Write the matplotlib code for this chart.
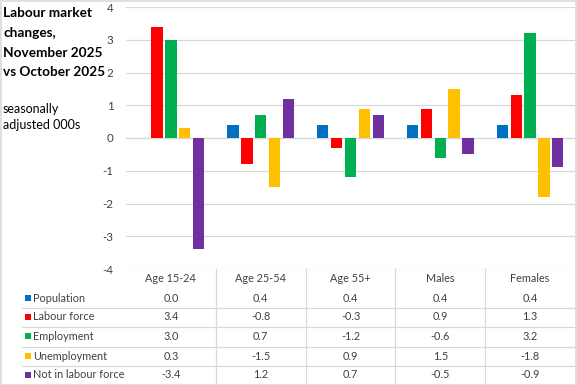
import matplotlib
matplotlib.use("Agg")
import matplotlib.pyplot as plt
from matplotlib.lines import Line2D
from matplotlib.patches import Rectangle
import matplotlib.transforms as mtransforms

plt.rcParams['font.family'] = ['Lato', 'DejaVu Sans']

categories = ["Age 15-24", "Age 25-54", "Age 55+", "Males", "Females"]
series_names = ["Population", "Labour force", "Employment", "Unemployment", "Not in labour force"]
population = [0.0, 0.4, 0.4, 0.4, 0.4]
labour_force = [3.4, -0.8, -0.3, 0.9, 1.3]
employment = [3.0, 0.7, -1.2, -0.6, 3.2]
unemployment = [0.3, -1.5, 0.9, 1.5, -1.8]
not_in_labour_force = [-3.4, 1.2, 0.7, -0.5, -0.9]
y_ticks = [-4, -3, -2, -1, 0, 1, 2, 3, 4]
title_lines = ["Labour market", "changes,", "November 2025", "vs October 2025"]
subtitle_lines = ["seasonally", "adjusted 000s"]

series = [population, labour_force, employment, unemployment, not_in_labour_force]
colors = ["#0070C0", "#FF0000", "#00B050", "#FFC000", "#7030A0"]

W, H = 577, 385
fig = plt.figure(figsize=(W / 100, H / 100), dpi=100)


def fx(px):
    return px / W


def fy(py):
    return 1 - py / H


left, right = 126, 575
top, bottom = 7, 269
ax = fig.add_axes([fx(left), fy(bottom), (right - left) / W, (bottom - top) / H])

grid_c = "#D9D9D9"
text_c = "#404040"

pitch = 0.154
width = 0.126
n = len(series)
for j, (vals, col) in enumerate(zip(series, colors)):
    xs = [i + (j - (n - 1) / 2) * pitch for i in range(len(categories))]
    ax.bar(xs, vals, width=width, color=col, zorder=3, label=series_names[j])

ax.set_xlim(-0.5, len(categories) - 0.5)
ax.set_ylim(-4, 4)
ax.set_yticks(y_ticks)
ax.set_yticklabels([str(t) for t in y_ticks])
ax.set_xticks([])
for s in ax.spines.values():
    s.set_visible(False)
ax.grid(axis='y', color=grid_c, lw=0.9, zorder=0)
ax.tick_params(axis='y', length=0, pad=9, labelsize=8.3, labelcolor=text_c)
ax.axhline(0, color=grid_c, lw=0.9, zorder=1)

# title
title_baselines = [17, 37, 57, 76.5]
for line, yb in zip(title_lines, title_baselines):
    fig.text(fx(3), fy(yb), line, fontsize=9.8, fontweight='bold', color='black', va='baseline', ha='left')
sub_baselines = [113, 129]
for line, yb in zip(subtitle_lines, sub_baselines):
    fig.text(fx(3), fy(yb), line, fontsize=9, color='black', va='baseline', ha='left')

# data table
trans = mtransforms.blended_transform_factory(ax.transData, fig.transFigure)
header_y = 279
row_ys = [298, 317, 336, 356, 375]
row_lines = [308, 327, 346.5, 366]

for i, cat in enumerate(categories):
    fig.text(i, fy(header_y), cat, transform=trans, ha='center', va='center', fontsize=7.8, color=text_c)
    for vals, ry in zip(series, row_ys):
        fig.text(i, fy(ry), f"{vals[i]:.1f}", transform=trans, ha='center', va='center', fontsize=7.8, color=text_c)

for k in range(1, len(categories)):
    fig.add_artist(Line2D([k - 0.5, k - 0.5], [fy(bottom), fy(H)], transform=trans, color=grid_c, lw=0.9))

for ly in row_lines:
    fig.add_artist(Line2D([fx(22), fx(576)], [fy(ly), fy(ly)], transform=fig.transFigure, color=grid_c, lw=0.9))

for name, col, ry in zip(series_names, colors, row_ys):
    fig.add_artist(Rectangle((fx(24.5), fy(ry + 3)), 6 / W, 6 / H, transform=fig.transFigure,
                             facecolor=col, edgecolor='none'))
    fig.text(fx(33), fy(ry), name, ha='left', va='center', fontsize=7.8, color=text_c)

# outer border
fig.add_artist(Rectangle((0.5 / W, 0.5 / H), 1 - 1.5 / W, 1 - 1.5 / H, transform=fig.transFigure,
                         facecolor='none', edgecolor=grid_c, lw=1.2))

fig.savefig("out.png", dpi=100)
